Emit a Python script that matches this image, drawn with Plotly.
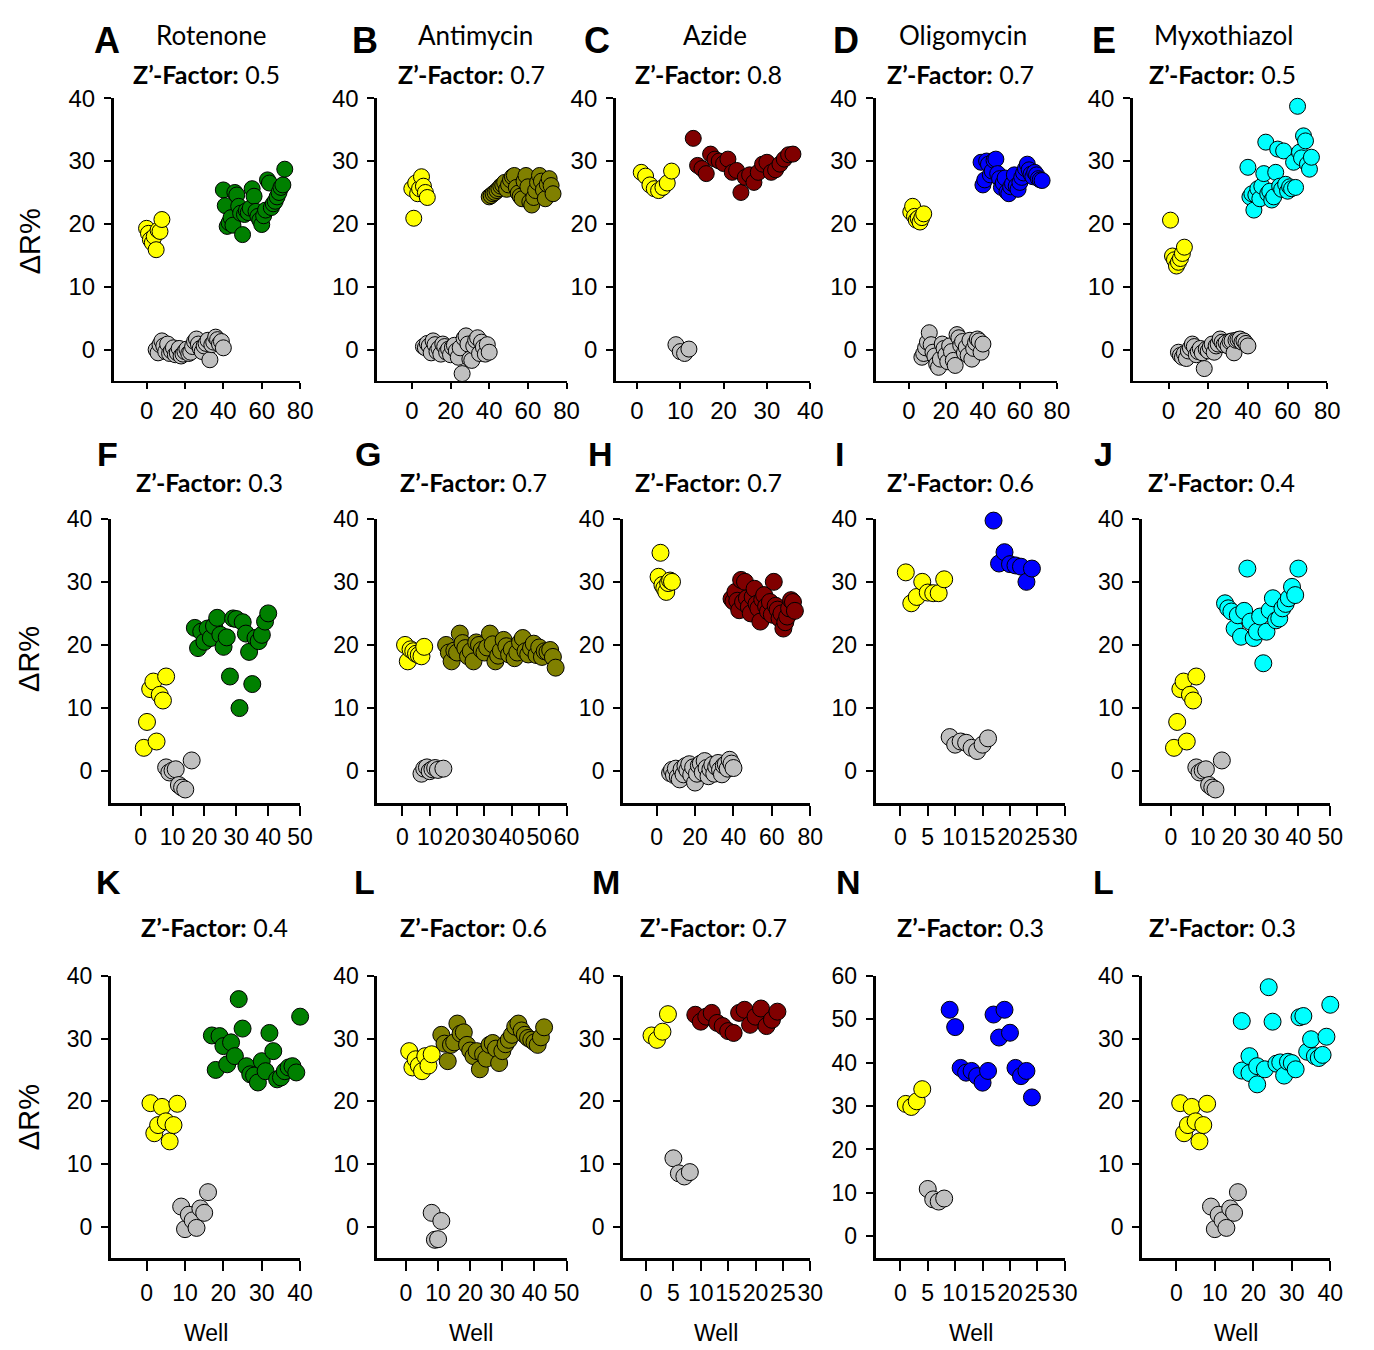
import plotly.graph_objects as go

W, H = 1374, 1350

# ---------------- data: well number vs ΔR% ----------------
# A  Rotenone
a_neg_x = [5, 6, 7, 8, 9, 10, 11, 12, 13, 14, 15, 16, 17, 18, 19, 20, 21, 22, 23, 24, 25, 26, 27, 28, 29, 30, 31, 32, 33, 34, 35, 36, 37, 38, 39, 40]
a_neg_y = [0.0, -0.5, 0.8, 1.4, 0.6, -0.3, 0.9, -0.6, -0.2, 0.3, -0.8, -0.5, 0.2, -1.0, -0.7, -0.3, 0.1, -0.6, -0.4, 0.5, 1.3, 1.7, 0.9, 0.2, -0.3, 0.6, 1.0, 1.5, -1.6, 0.8, 1.2, 2.0, 1.6, 0.9, 1.3, 0.3]
a_pos_x = [0, 1, 2, 3, 4, 5, 6, 7, 8]
a_pos_y = [19.3, 18.5, 17.5, 17.0, 18.0, 15.9, 19.0, 18.8, 20.7]
a_drug_x = [40, 41, 42, 43, 44, 45, 46, 47, 48, 49, 50, 51, 52, 53, 54, 55, 56, 57, 58, 59, 60, 61, 62, 63, 64, 65, 66, 67, 68, 69, 70, 71, 72]
a_drug_y = [25.4, 22.9, 19.6, 20.2, 21.0, 19.8, 25.0, 24.6, 22.8, 21.7, 18.3, 21.5, 22.1, 21.8, 22.5, 25.6, 24.4, 22.0, 21.2, 20.6, 19.9, 21.3, 22.2, 27.0, 26.5, 22.6, 23.2, 23.6, 24.3, 25.0, 25.8, 26.2, 28.7]

# B  Antimycin
b_neg_x = [6, 7, 8, 9, 10, 11, 12, 13, 14, 15, 16, 17, 18, 19, 20, 21, 22, 23, 24, 25, 26, 27, 28, 29, 30, 31, 32, 33, 34, 35, 36, 37, 38, 39, 40]
b_neg_y = [0.5, 0.3, 1.0, 0.6, -0.5, 1.4, 0.8, -0.3, 0.2, -0.7, 0.9, 0.5, -0.4, 0.1, -0.8, 0.4, 0.7, -0.2, -1.2, 0.3, -3.8, 1.8, 2.2, 0.9, -1.5, -1.7, 0.6, 1.5, 1.9, -0.6, 1.2, 0.4, -0.7, 0.8, -0.4]
b_pos_x = [0, 1, 2, 3, 4, 5, 6, 7, 8]
b_pos_y = [25.6, 20.9, 26.5, 24.8, 25.6, 27.5, 26.0, 25.0, 24.2]
b_drug_x = [40, 41, 42, 43, 44, 45, 46, 47, 48, 49, 50, 51, 52, 53, 54, 55, 56, 57, 58, 59, 60, 61, 62, 63, 64, 65, 66, 67, 68, 69, 70, 71, 72, 73]
b_drug_y = [24.3, 24.5, 24.8, 25.0, 25.3, 25.6, 26.0, 26.2, 26.6, 25.5, 26.2, 27.0, 27.5, 27.7, 25.8, 24.9, 24.4, 24.0, 26.8, 27.7, 25.9, 23.5, 23.0, 24.2, 25.3, 26.6, 27.7, 26.8, 25.4, 24.0, 26.3, 27.2, 26.1, 24.8]

# C  Azide
c_neg_x = [9, 10, 11, 12]
c_neg_y = [0.8, -0.3, -0.6, 0.1]
c_pos_x = [1, 2, 3, 4, 5, 6, 7, 8]
c_pos_y = [28.2, 27.6, 26.2, 25.6, 25.3, 25.8, 26.5, 28.4]
c_drug_x = [13, 14, 15, 16, 17, 18, 19, 20, 21, 22, 23, 24, 25, 26, 27, 28, 29, 30, 31, 32, 33, 34, 35, 36]
c_drug_y = [33.6, 29.3, 28.8, 28.0, 31.1, 30.3, 30.0, 29.6, 30.3, 28.2, 28.5, 25.0, 27.4, 27.8, 26.6, 28.2, 29.5, 29.8, 28.2, 28.6, 29.5, 30.3, 31.0, 31.1]

# D  Oligomycin
d_neg_x = [7, 8, 9, 10, 11, 12, 13, 14, 15, 16, 17, 18, 19, 20, 21, 22, 23, 24, 25, 26, 27, 28, 29, 30, 31, 32, 33, 34, 35, 36, 37, 38, 39, 40]
d_neg_y = [-1.2, -0.6, 0.3, 1.2, 2.7, 0.8, -0.4, -1.0, -2.3, -2.8, -1.5, 0.9, 0.2, -0.8, -1.9, 0.6, -0.3, -1.7, -2.5, 2.4, 1.9, 0.7, 1.3, -0.5, 0.4, -0.9, 1.5, -1.5, 0.2, 1.1, 1.7, 1.4, -0.4, 0.9]
d_pos_x = [1, 2, 3, 4, 5, 6, 7, 8]
d_pos_y = [21.9, 22.8, 21.2, 20.6, 20.9, 20.3, 21.0, 21.6]
d_drug_x = [39, 40, 41, 42, 43, 44, 45, 46, 47, 48, 49, 50, 51, 52, 53, 54, 55, 56, 57, 58, 59, 60, 61, 62, 63, 64, 65, 66, 67, 68, 69, 70, 71, 72]
d_drug_y = [29.8, 26.2, 27.0, 30.0, 29.5, 27.8, 28.4, 30.1, 30.3, 28.0, 27.2, 25.8, 26.5, 27.3, 25.1, 24.8, 25.9, 26.4, 27.8, 26.0, 25.5, 26.6, 27.4, 28.1, 28.8, 29.5, 28.6, 27.9, 27.5, 28.2, 27.8, 27.2, 27.0, 26.9]

# E  Myxothiazol
e_neg_x = [5, 6, 7, 8, 9, 10, 11, 12, 13, 14, 15, 16, 17, 18, 19, 20, 21, 22, 23, 24, 25, 26, 27, 28, 29, 30, 31, 32, 33, 34, 35, 36, 37, 38, 39, 40]
e_neg_y = [-0.4, -0.9, -1.2, -0.6, -1.4, -0.2, 0.3, 0.9, 0.5, -0.8, -0.3, 0.2, -0.5, -3.0, 0.1, -0.2, 0.4, 0.9, -0.4, 0.6, 0.9, 1.7, 1.2, 0.8, 1.1, 0.6, 1.3, 1.4, -0.5, 1.5, 1.6, 1.7, 1.2, 1.4, 1.0, 0.6]
e_pos_x = [1, 2, 3, 4, 5, 6, 7, 8]
e_pos_y = [20.6, 14.9, 14.3, 13.3, 13.9, 14.5, 15.3, 16.3]
e_drug_x = [40, 41, 42, 43, 44, 45, 46, 47, 48, 49, 50, 51, 52, 53, 54, 55, 56, 57, 58, 59, 60, 61, 62, 63, 64, 65, 66, 67, 68, 69, 70, 71, 72]
e_drug_y = [29.0, 24.3, 24.8, 22.2, 24.6, 25.6, 24.0, 26.0, 28.0, 33.0, 24.8, 25.2, 23.8, 24.3, 28.2, 31.9, 26.0, 25.5, 31.6, 26.3, 25.2, 25.9, 25.6, 29.8, 25.8, 38.7, 31.4, 30.5, 34.0, 33.2, 29.5, 28.7, 30.6]

# F  Rotenone (second screen)
f_neg_x = [8, 9, 10, 11, 12, 13, 14, 16]
f_neg_y = [0.6, -0.2, 0.1, 0.3, -2.2, -2.6, -2.9, 1.7]
f_pos_x = [1, 2, 3, 4, 5, 6, 7, 8]
f_pos_y = [3.7, 7.8, 13.0, 14.2, 4.7, 12.1, 11.2, 15.0]
f_drug_x = [17, 18, 19, 20, 21, 22, 23, 24, 25, 26, 27, 28, 29, 30, 31, 32, 33, 34, 35, 36, 37, 38, 39, 40]
f_drug_y = [22.7, 19.5, 22.1, 20.5, 22.6, 21.1, 23.0, 24.3, 21.6, 19.7, 21.2, 15.0, 24.2, 24.1, 10.0, 23.6, 21.8, 18.9, 13.8, 21.1, 20.6, 21.6, 23.7, 25.0]

# G  Antimycin (second screen)
g_neg_x = [7, 8, 9, 10, 11, 12, 13, 15]
g_neg_y = [-0.4, 0.4, 0.6, 0.0, 0.3, 0.5, 0.2, 0.4]
g_pos_x = [1, 2, 3, 4, 5, 6, 7, 8]
g_pos_y = [20.0, 17.4, 19.3, 19.0, 18.6, 18.4, 18.2, 19.7]
g_drug_x = [16, 17, 18, 19, 20, 21, 22, 23, 24, 25, 26, 27, 28, 29, 30, 31, 32, 33, 34, 35, 36, 37, 38, 39, 40, 41, 42, 43, 44, 45, 46, 47, 48, 49, 50, 51, 52, 53, 54, 55, 56]
g_drug_y = [20.0, 18.8, 17.4, 19.1, 18.8, 21.8, 20.3, 19.5, 18.2, 19.0, 17.4, 20.4, 20.0, 19.2, 18.8, 19.6, 21.8, 20.1, 17.4, 18.3, 19.1, 20.8, 19.8, 18.5, 19.3, 17.9, 18.8, 20.4, 21.1, 19.0, 18.5, 19.5, 20.2, 18.4, 19.6, 18.1, 19.0, 18.9, 19.2, 18.1, 16.4]

# H  Azide (second screen)
h_neg_x = [7, 8, 9, 10, 11, 12, 13, 14, 15, 16, 17, 18, 19, 20, 21, 22, 23, 24, 25, 26, 27, 28, 29, 30, 31, 32, 33, 34, 35, 36, 37, 38, 39, 40]
h_neg_y = [-0.3, 0.2, -0.6, 0.4, -0.9, -1.3, 0.3, -0.5, 0.8, 0.2, 1.1, -0.6, 0.6, -1.8, -0.4, 0.9, 1.2, -0.2, 1.6, 0.5, -0.8, 0.3, 1.0, -0.4, 0.7, 1.3, 0.2, -0.5, 0.9, 1.1, 0.4, 1.8, 1.2, 0.5]
h_pos_x = [1, 2, 3, 4, 5, 6, 7, 8]
h_pos_y = [30.8, 34.6, 29.5, 29.0, 28.4, 29.8, 30.2, 30.0]
h_drug_x = [39, 40, 41, 42, 43, 44, 45, 46, 47, 48, 49, 50, 51, 52, 53, 54, 55, 56, 57, 58, 59, 60, 61, 62, 63, 64, 65, 66, 67, 68, 69, 70, 71, 72]
h_drug_y = [27.3, 26.9, 28.4, 27.0, 25.5, 30.3, 26.8, 30.0, 27.4, 26.0, 25.0, 27.6, 28.9, 26.5, 25.8, 23.7, 27.2, 27.9, 26.1, 25.3, 26.8, 24.8, 30.0, 26.2, 25.6, 24.2, 25.0, 22.6, 23.6, 24.5, 25.8, 27.1, 26.8, 25.4]

# I  Oligomycin (second screen)
i_neg_x = [9, 10, 11, 12, 13, 14, 15, 16]
i_neg_y = [5.4, 4.2, 4.7, 4.5, 3.7, 3.2, 4.2, 5.2]
i_pos_x = [1, 2, 3, 4, 5, 6, 7, 8]
i_pos_y = [31.5, 26.6, 27.6, 30.0, 28.3, 28.2, 28.2, 30.4]
i_drug_x = [17, 18, 19, 20, 21, 22, 23, 24]
i_drug_y = [39.7, 32.9, 34.7, 32.8, 32.6, 32.4, 30.0, 32.1]

# J  Myxothiazol (second screen)
j_neg_x = [8, 9, 10, 11, 12, 13, 14, 16]
j_neg_y = [0.6, -0.2, 0.1, 0.3, -2.2, -2.6, -2.9, 1.7]
j_pos_x = [1, 2, 3, 4, 5, 6, 7, 8]
j_pos_y = [3.7, 7.8, 13.0, 14.2, 4.7, 12.1, 11.2, 15.0]
j_drug_x = [17, 18, 19, 20, 21, 22, 23, 24, 25, 26, 27, 28, 29, 30, 31, 32, 33, 34, 35, 36, 37, 38, 39, 40]
j_drug_y = [26.6, 25.8, 25.3, 22.6, 24.7, 21.3, 25.4, 32.1, 23.7, 21.1, 22.1, 24.5, 17.1, 22.1, 25.5, 27.4, 23.9, 24.2, 25.8, 26.5, 27.4, 29.2, 27.9, 32.1]

# K  Rotenone (third screen)
k_neg_x = [9, 10, 11, 12, 13, 14, 15, 16]
k_neg_y = [3.2, -0.4, 1.9, 1.0, -0.2, 2.9, 2.2, 5.5]
k_pos_x = [1, 2, 3, 4, 5, 6, 7, 8]
k_pos_y = [19.7, 14.9, 16.2, 19.1, 16.8, 13.6, 16.2, 19.6]
k_drug_x = [17, 18, 19, 20, 21, 22, 23, 24, 25, 26, 27, 28, 29, 30, 31, 32, 33, 34, 35, 36, 37, 38, 39, 40]
k_drug_y = [30.5, 25.0, 30.4, 28.8, 25.9, 29.4, 27.2, 36.3, 31.6, 25.6, 24.3, 24.1, 23.0, 26.4, 24.8, 30.9, 28.0, 23.5, 23.8, 24.8, 25.4, 25.6, 24.6, 33.5]

# L  Antimycin (third screen)
l_neg_x = [8, 9, 10, 11]
l_neg_y = [2.2, -2.1, -2.0, 0.9]
l_pos_x = [1, 2, 3, 4, 5, 6, 7, 8]
l_pos_y = [28.0, 25.4, 26.7, 25.7, 24.8, 27.2, 25.7, 27.5]
l_drug_x = [11, 12, 13, 14, 15, 16, 17, 18, 19, 20, 21, 22, 23, 24, 25, 26, 27, 28, 29, 30, 31, 32, 33, 34, 35, 36, 37, 38, 39, 40, 41, 42, 43]
l_drug_y = [30.6, 29.2, 26.4, 29.0, 29.4, 32.4, 30.8, 31.0, 29.0, 28.1, 27.2, 28.0, 25.1, 27.5, 26.8, 29.0, 29.3, 28.4, 26.1, 28.0, 29.1, 29.8, 30.6, 31.9, 32.4, 31.3, 30.6, 30.1, 29.8, 29.4, 29.0, 30.2, 31.8]

# M  Azide (third screen)
m_neg_x = [5, 6, 7, 8]
m_neg_y = [10.9, 8.5, 8.0, 8.7]
m_pos_x = [1, 2, 3, 4]
m_pos_y = [30.5, 29.8, 31.1, 33.9]
m_drug_x = [9, 10, 11, 12, 13, 14, 15, 16, 17, 18, 19, 20, 21, 22, 23, 24]
m_drug_y = [33.8, 32.7, 33.5, 34.1, 32.5, 32.0, 31.2, 30.9, 34.1, 34.6, 32.2, 33.5, 34.8, 32.0, 33.0, 34.3]

# N  Oligomycin (third screen)
n_neg_x = [5, 6, 7, 8]
n_neg_y = [10.9, 8.5, 8.0, 8.7]
n_pos_x = [1, 2, 3, 4]
n_pos_y = [30.5, 29.8, 31.1, 33.9]
n_drug_x = [9, 10, 11, 12, 13, 14, 15, 16, 17, 18, 19, 20, 21, 22, 23, 24]
n_drug_y = [52.2, 48.2, 38.8, 37.7, 38.1, 36.9, 35.4, 38.1, 51.1, 45.8, 52.2, 46.9, 38.8, 36.9, 38.1, 32.0]

# L  Myxothiazol (third screen)
o_neg_x = [9, 10, 11, 12, 13, 14, 15, 16]
o_neg_y = [3.2, -0.4, 1.9, 1.0, -0.2, 2.9, 2.2, 5.5]
o_pos_x = [1, 2, 3, 4, 5, 6, 7, 8]
o_pos_y = [19.7, 14.9, 16.2, 19.1, 16.8, 13.6, 16.2, 19.6]
o_drug_x = [17, 17, 19, 19, 21, 21, 23, 24, 25, 26, 27, 28, 29, 30, 31, 32, 33, 34, 35, 36, 37, 38, 39, 40]
o_drug_y = [32.8, 24.9, 27.2, 24.5, 25.6, 22.7, 25.1, 38.2, 32.7, 26.0, 26.2, 24.1, 26.3, 26.1, 25.1, 33.4, 33.6, 27.9, 29.9, 27.2, 26.9, 27.4, 30.3, 35.4]

panel_letters = ["A", "B", "C", "D", "E", "F", "G", "H", "I", "J", "K", "L", "M", "N", "L"]
drug_names = ["Rotenone", "Antimycin", "Azide", "Oligomycin", "Myxothiazol"]
z_factors = ["0.5", "0.7", "0.8", "0.7", "0.5",
             "0.3", "0.7", "0.7", "0.6", "0.4",
             "0.4", "0.6", "0.7", "0.3", "0.3"]

# ---------------- styling ----------------
GREY = "#C0C0C0"
YELLOW = "#FFFF00"
DRUG_COLORS = ["#008000", "#808000", "#800000", "#0000FF", "#00FFFF"]

TICK_FONT = "Liberation Sans, Arial, sans-serif"
TEXT_FONT = "Lato, Open Sans, sans-serif"

ROW_Y = {0: (85, 371), 1: (510, 797), 2: (972, 1257)}

# per panel: x pixel extent, x range, x tick values
panels = [
    dict(px=(115, 303), xr=[-17, 80], xt=[0, 20, 40, 60, 80]),
    dict(px=(381, 572), xr=[-17.8, 80], xt=[0, 20, 40, 60, 80]),
    dict(px=(622, 818), xr=[-4.8, 40], xt=[0, 10, 20, 30, 40]),
    dict(px=(884, 1067), xr=[-18, 80], xt=[0, 20, 40, 60, 80]),
    dict(px=(1144, 1340), xr=[-17.8, 80], xt=[0, 20, 40, 60, 80]),
    dict(px=(112, 303), xr=[-9.3, 50], xt=[0, 10, 20, 30, 40, 50]),
    dict(px=(381, 572), xr=[-9.1, 60], xt=[0, 10, 20, 30, 40, 50, 60]),
    dict(px=(629, 818), xr=[-17.5, 80], xt=[0, 20, 40, 60, 80]),
    dict(px=(884, 1075), xr=[-4.5, 30], xt=[0, 5, 10, 15, 20, 25, 30]),
    dict(px=(1153, 1343), xr=[-9, 50], xt=[0, 10, 20, 30, 40, 50]),
    dict(px=(112, 303), xr=[-9.3, 40], xt=[0, 10, 20, 30, 40]),
    dict(px=(381, 572), xr=[-8.9, 50], xt=[0, 10, 20, 30, 40, 50]),
    dict(px=(629, 818), xr=[-4.2, 30], xt=[0, 5, 10, 15, 20, 25, 30]),
    dict(px=(884, 1075), xr=[-4.5, 30], xt=[0, 5, 10, 15, 20, 25, 30]),
    dict(px=(1153, 1343), xr=[-8.9, 40], xt=[0, 10, 20, 30, 40]),
]

series = [
    (a_neg_x, a_neg_y, a_pos_x, a_pos_y, a_drug_x, a_drug_y),
    (b_neg_x, b_neg_y, b_pos_x, b_pos_y, b_drug_x, b_drug_y),
    (c_neg_x, c_neg_y, c_pos_x, c_pos_y, c_drug_x, c_drug_y),
    (d_neg_x, d_neg_y, d_pos_x, d_pos_y, d_drug_x, d_drug_y),
    (e_neg_x, e_neg_y, e_pos_x, e_pos_y, e_drug_x, e_drug_y),
    (f_neg_x, f_neg_y, f_pos_x, f_pos_y, f_drug_x, f_drug_y),
    (g_neg_x, g_neg_y, g_pos_x, g_pos_y, g_drug_x, g_drug_y),
    (h_neg_x, h_neg_y, h_pos_x, h_pos_y, h_drug_x, h_drug_y),
    (i_neg_x, i_neg_y, i_pos_x, i_pos_y, i_drug_x, i_drug_y),
    (j_neg_x, j_neg_y, j_pos_x, j_pos_y, j_drug_x, j_drug_y),
    (k_neg_x, k_neg_y, k_pos_x, k_pos_y, k_drug_x, k_drug_y),
    (l_neg_x, l_neg_y, l_pos_x, l_pos_y, l_drug_x, l_drug_y),
    (m_neg_x, m_neg_y, m_pos_x, m_pos_y, m_drug_x, m_drug_y),
    (n_neg_x, n_neg_y, n_pos_x, n_pos_y, n_drug_x, n_drug_y),
    (o_neg_x, o_neg_y, o_pos_x, o_pos_y, o_drug_x, o_drug_y),
]

# label positions in pixels
letter_pos = [(108, 27), (368, 27), (603, 27), (854, 27), (1115, 27),
              (109, 445), (372, 445), (606, 445), (848, 445), (1114, 445),
              (110, 877), (368, 877), (612, 877), (857, 877), (1114, 877)]
name_pos = [(213, 21), (480, 21), (722, 21), (972, 21), (1236, 21)]
z_pos = [(208, 61), (476, 61), (715, 61), (970, 61), (1234, 61),
         (212, 473), (478, 473), (715, 473), (970, 473), (1233, 473),
         (217, 923), (478, 923), (720, 923), (980, 923), (1234, 923)]
well_pos = [(208, 1333), (475, 1333), (723, 1333), (980, 1333), (1248, 1333)]
dr_pos = [(30, 230), (30, 652), (30, 1115)]


def fx(p):
    return p / W


def fy(p):
    return 1 - p / H


fig = go.Figure()
layout = {}

for i, (spec, data) in enumerate(zip(panels, series)):
    row = i // 5
    col = i % 5
    n = i + 1
    xa = "x" if n == 1 else f"x{n}"
    ya = "y" if n == 1 else f"y{n}"
    top, bottom = ROW_Y[row]
    left, right = spec["px"]
    msize = 16 if row == 0 else 17

    nx, ny, px_, py_, dx, dy = data
    for xs, ys, color in ((nx, ny, GREY), (px_, py_, YELLOW), (dx, dy, DRUG_COLORS[col])):
        fig.add_trace(go.Scatter(
            x=xs, y=ys, mode="markers", xaxis=xa, yaxis=ya,
            cliponaxis=False, showlegend=False, hoverinfo="skip",
            marker=dict(size=msize, color=color, line=dict(color="black", width=1)),
        ))

    if i == 13:
        yr, yt = [-5, 60], [0, 10, 20, 30, 40, 50, 60]
    else:
        yr, yt = [-5, 40], [0, 10, 20, 30, 40]

    tick_size = 24 if row == 0 else 23
    if row == 0:
        x_line, x_tlen, x_twid, x_stand = 2, 6, 1.5, 1
    else:
        x_line, x_tlen, x_twid, x_stand = 3, 10, 2, 2
    layout["xaxis" if n == 1 else f"xaxis{n}"] = dict(
        domain=[fx(left), fx(right)], anchor=ya, range=spec["xr"],
        tickvals=spec["xt"], ticktext=[str(v) for v in spec["xt"]], tickangle=0,
        showgrid=False, zeroline=False, showline=True, linecolor="black", linewidth=x_line,
        ticks="outside", ticklen=x_tlen, tickwidth=x_twid, tickcolor="black",
        ticklabelstandoff=x_stand,
        tickfont=dict(family=TICK_FONT, size=tick_size, color="black"),
    )
    layout["yaxis" if n == 1 else f"yaxis{n}"] = dict(
        domain=[fy(bottom), fy(top)], anchor=xa, range=yr, tickvals=yt,
        showgrid=False, zeroline=False, showline=True, linecolor="black", linewidth=3,
        ticks="outside", ticklen=7, tickwidth=2, tickcolor="black",
        ticklabelstandoff=4,
        tickfont=dict(family=TICK_FONT, size=tick_size, color="black"),
    )

annotations = []
for i, letter in enumerate(panel_letters):
    x, y = letter_pos[i]
    annotations.append(dict(
        text=f"<b>{letter}</b>", x=fx(x), y=fy(y), xref="paper", yref="paper",
        showarrow=False, xanchor="center", yanchor="middle",
        font=dict(family="Liberation Sans, Arial, sans-serif", size=36 if i < 5 else 34, color="black"),
    ))
for i, name in enumerate(drug_names):
    x, y = name_pos[i]
    annotations.append(dict(
        text=name, x=fx(x), y=fy(y), xref="paper", yref="paper",
        showarrow=False, xanchor="center", yanchor="middle",
        font=dict(family=TEXT_FONT, size=26, color="black"),
    ))
for i, z in enumerate(z_factors):
    x, y = z_pos[i]
    annotations.append(dict(
        text=f"<b>Z’-Factor:</b> {z}", x=fx(x), y=fy(y), xref="paper", yref="paper",
        showarrow=False, xanchor="center", yanchor="middle",
        font=dict(family=TEXT_FONT, size=25, color="black"),
    ))
for x, y in well_pos:
    annotations.append(dict(
        text="Well", x=fx(x), y=fy(y), xref="paper", yref="paper",
        showarrow=False, xanchor="center", yanchor="middle",
        font=dict(family=TICK_FONT, size=23, color="black"),
    ))
for x, y in dr_pos:
    annotations.append(dict(
        text="ΔR%", x=fx(x), y=fy(y), xref="paper", yref="paper",
        showarrow=False, xanchor="center", yanchor="middle", textangle=-90,
        font=dict(family=TICK_FONT, size=29, color="black"),
    ))

fig.update_layout(
    width=W, height=H, margin=dict(l=0, r=0, t=0, b=0),
    paper_bgcolor="white", plot_bgcolor="white",
    showlegend=False, annotations=annotations, **layout,
)

fig.write_html("out.html")
